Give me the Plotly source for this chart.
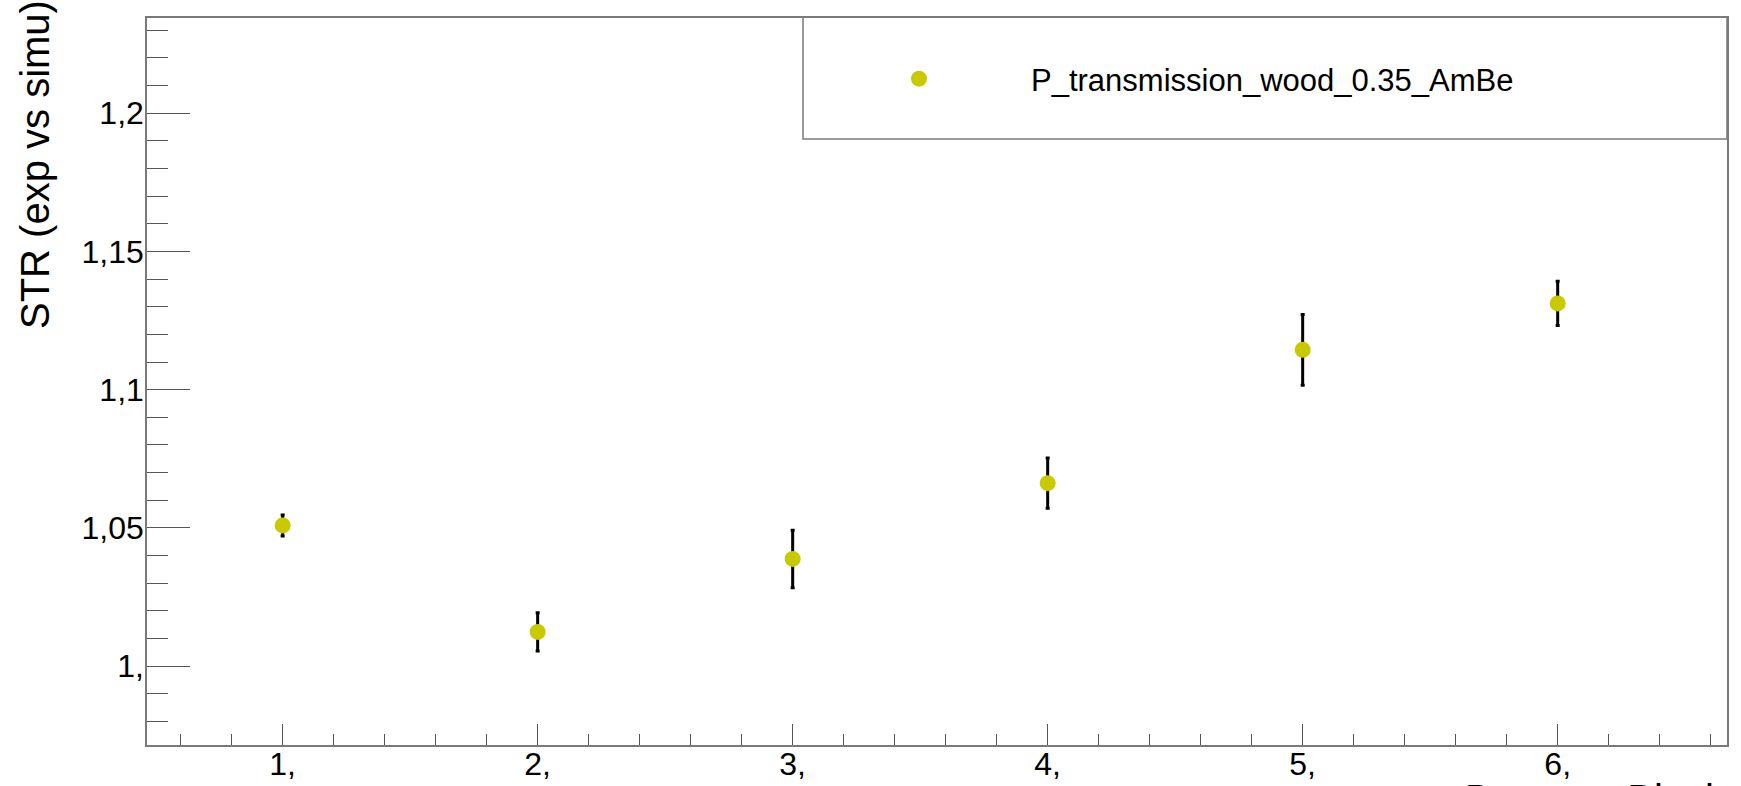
import plotly.graph_objects as go

# ---- data ----
detector_block = [1, 2, 3, 4, 5, 6]
str_values = [1.0509, 1.0124, 1.0388, 1.0662, 1.1144, 1.1312]
str_errors = [0.0038, 0.0069, 0.0104, 0.0091, 0.0128, 0.0080]

x_tickvals = [1, 2, 3, 4, 5, 6]
x_ticktext = ["1,", "2,", "3,", "4,", "5,", "6,"]
y_tickvals = [1.0, 1.05, 1.1, 1.15, 1.2]
y_ticktext = ["1,", "1,05", "1,1", "1,15", "1,2"]

series_name = "P_transmission_wood_0.35_AmBe"
y_title = "STR (exp vs simu)"
x_title = "Detector Block"

# ---- layout geometry (pixels) ----
W, H = 1741, 786
L, R, T, B = 147, 14, 18, 41
PW = W - L - R
PH = H - T - B

def px_x(p):
    return (p - L) / PW

def px_y(p):
    return (H - B - p) / PH

AXIS_FONT = dict(family="Liberation Sans Narrow, Liberation Sans, Arial, sans-serif",
                 size=32, color="black")
TITLE_FONT = dict(family="Liberation Sans, Arial, sans-serif", size=40, color="black")
LINE_COL = "#7a7a7a"
TICK_COL = "#555555"

fig = go.Figure()
fig.add_trace(go.Scatter(
    x=detector_block, y=str_values, mode="markers", name=series_name,
    marker=dict(color="#C9C900", size=16, line=dict(width=0)),
    error_y=dict(type="data", array=str_errors, visible=True,
                 color="black", thickness=3, width=2),
))

fig.update_layout(
    width=W, height=H,
    margin=dict(l=L, r=R, t=T, b=B, pad=0, autoexpand=False),
    paper_bgcolor="white", plot_bgcolor="white",
    showlegend=True,
    legend=dict(
        x=px_x(807), y=px_y(52), xanchor="left", yanchor="top",
        bgcolor="rgba(0,0,0,0)", borderwidth=0,
        font=dict(family="Liberation Sans, Arial, sans-serif", size=31, color="black"),
        itemwidth=214,
    ),
    xaxis=dict(
        range=[0.468, 6.664], showgrid=False, zeroline=False, automargin=False,
        showline=True, linecolor=LINE_COL, linewidth=1.5, mirror=True,
        tickmode="array", tickvals=x_tickvals, ticktext=x_ticktext,
        ticks="inside", ticklen=21, tickwidth=1.3, tickcolor=TICK_COL,
        tickfont=AXIS_FONT, ticklabelstandoff=-10,
        minor=dict(tickmode="linear", tick0=0, dtick=0.2, ticks="inside",
                   ticklen=11, tickwidth=1.3, tickcolor=TICK_COL, showgrid=False),
    ),
    yaxis=dict(
        range=[0.9715, 1.2344], showgrid=False, zeroline=False, automargin=False,
        showline=True, linecolor=LINE_COL, linewidth=1.5, mirror=True,
        tickmode="array", tickvals=y_tickvals, ticktext=y_ticktext,
        ticks="inside", ticklen=43, tickwidth=1.3, tickcolor=TICK_COL,
        tickfont=AXIS_FONT, ticklabelstandoff=-5,
        minor=dict(tickmode="linear", tick0=0, dtick=0.01, ticks="inside",
                   ticklen=21, tickwidth=1.3, tickcolor=TICK_COL, showgrid=False),
    ),
    shapes=[dict(
        type="rect", xref="paper", yref="paper",
        x0=px_x(803), x1=1.0, y0=px_y(139), y1=px_y(17.3),
        line=dict(color=LINE_COL, width=1.5), fillcolor="white", layer="below",
    )],
    annotations=[
        dict(text=y_title, xref="paper", yref="paper", x=px_x(35), y=px_y(165),
             xanchor="center", yanchor="middle", textangle=-90, showarrow=False,
             font=TITLE_FONT),
        dict(text=x_title, xref="paper", yref="paper", x=px_x(1463), y=px_y(775),
             xanchor="left", yanchor="top", showarrow=False,
             font=TITLE_FONT),
    ],
)

fig.write_html("out.html")
